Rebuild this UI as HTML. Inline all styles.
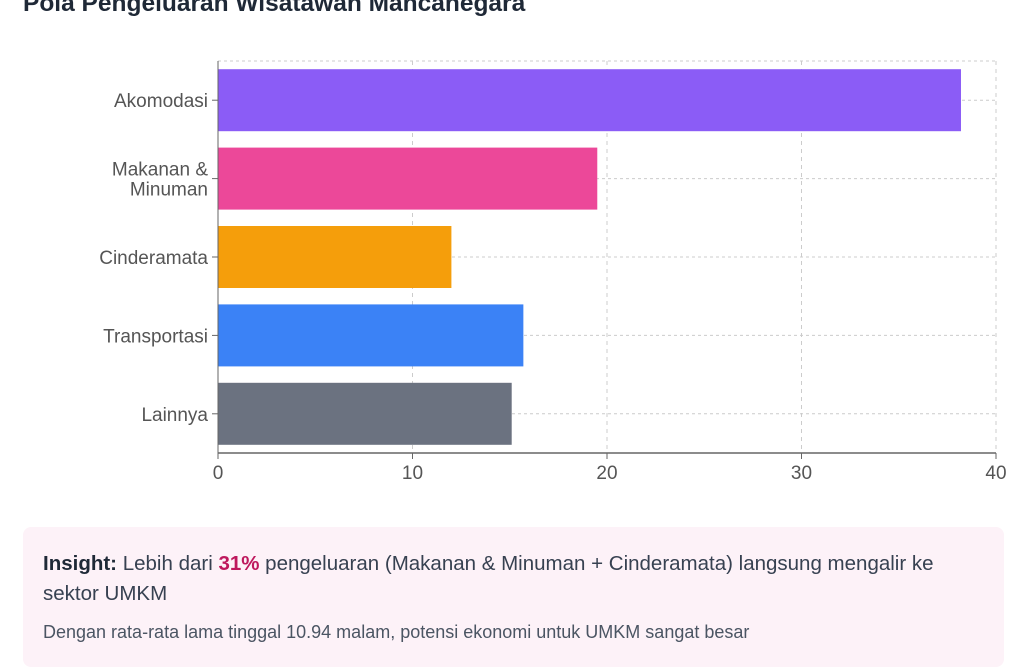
<!DOCTYPE html>
<html><head><meta charset="utf-8"><style>
body{margin:0;width:1024px;height:656px;overflow:hidden;background:#fff;font-family:"Liberation Sans",sans-serif;}
#title{position:absolute;left:23px;top:-10px;font-size:24.5px;font-weight:bold;color:#1f2937;margin:0;}
#insight{position:absolute;left:23px;top:527px;width:981px;height:140px;background:#fdf2f8;border-radius:8px;}
#insight .l1{position:absolute;left:20px;top:22px;width:950px;font-size:20.5px;line-height:30px;color:#374151;}
#insight .l2{position:absolute;left:20px;top:95px;font-size:18px;color:#4b5563;}
</style></head><body>
<h1 id="title">Pola Pengeluaran Wisatawan Mancanegara</h1>
<svg id="chart" width="1024" height="520" style="position:absolute;left:0;top:0"></svg>
<div id="insight">
<div class="l1"><b style="color:#1f2937">Insight:</b> Lebih dari <b style="color:#be185d">31%</b> pengeluaran (Makanan &amp; Minuman + Cinderamata) langsung mengalir ke<br>sektor UMKM</div>
<div class="l2">Dengan rata-rata lama tinggal 10.94 malam, potensi ekonomi untuk UMKM sangat besar</div>
</div>
<script>
const categories=[["Akomodasi"],["Makanan &","Minuman"],["Cinderamata"],["Transportasi"],["Lainnya"]];
const values=[38.2,19.5,12.0,15.7,15.1];
const colors=["#8b5cf6","#ec4899","#f59e0b","#3b82f6","#6b7280"];
const ticks=[0,10,20,30,40];
const svg=document.getElementById('chart');
const NS='http://www.w3.org/2000/svg';
const x0=218,x1=996,yTop=61,yBot=453,band=(yBot-yTop)/categories.length;
const xs=v=>x0+(v/40)*(x1-x0);
const yc=i=>yTop+band*(i+0.5);
function mk(t,a){const e=document.createElementNS(NS,t);for(const k in a)e.setAttribute(k,a[k]);svg.appendChild(e);return e;}
ticks.forEach(t=>{const g=mk('line',{x1:xs(t),x2:xs(t),y1:yTop,y2:yBot,stroke:'#ccc','stroke-dasharray':'4 4'});

});
const tg=mk('line',{x1:x0,x2:x1,y1:yTop,y2:yTop,stroke:'#ccc','stroke-dasharray':'3 3'});


categories.forEach((c,i)=>{const g=mk('line',{x1:x0,x2:x1,y1:yc(i),y2:yc(i),stroke:'#ccc','stroke-dasharray':'3 3'});

});
values.forEach((v,i)=>{const r=mk('rect',{x:x0,y:yc(i)-31,width:xs(v)-x0,height:62,fill:colors[i]});

});
const ya=mk('line',{x1:x0,x2:x0,y1:yTop,y2:yBot,stroke:'#666'});


const xa=mk('line',{x1:x0,x2:x1,y1:yBot,y2:yBot,stroke:'#666','stroke-width':1.5});


ticks.forEach(t=>{mk('line',{x1:xs(t),x2:xs(t),y1:yBot,y2:yBot+6,stroke:'#666'});
const tx=mk('text',{x:xs(t),y:yBot+26,'text-anchor':'middle','font-size':19,fill:'#555','font-family':'Liberation Sans, sans-serif'});
tx.textContent=t;

});
categories.forEach((c,i)=>{mk('line',{x1:x0-6,x2:x0,y1:yc(i),y2:yc(i),stroke:'#666'});
const n=c.length;c.forEach((s,j)=>{const tx=mk('text',{x:x0-10,y:yc(i)+7+(j-(n-1)/2)*20,'text-anchor':'end','font-size':19,fill:'#555','font-family':'Liberation Sans, sans-serif'});
tx.textContent=s;

});});
</script>
</body></html>
